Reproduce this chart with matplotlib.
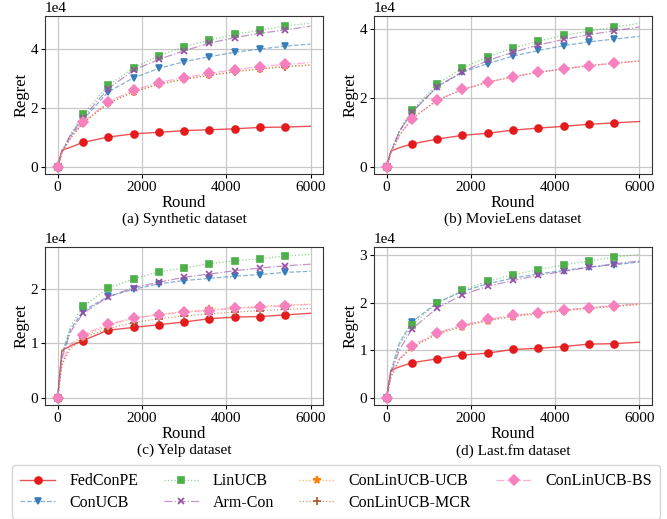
import numpy as np
import matplotlib
matplotlib.use('Agg')
import matplotlib.pyplot as plt
from matplotlib.colors import to_rgba

plt.rcParams['font.family'] = ['Liberation Serif', 'DejaVu Serif']
plt.rcParams['font.size'] = 11

# rounds at which values were read
rounds = [0, 100, 300, 600, 1200, 1800, 2400, 3000, 3600, 4200, 4800, 5400, 6000]

names = ['FedConPE', 'ConUCB', 'LinUCB', 'Arm-Con',
         'ConLinUCB-UCB', 'ConLinUCB-MCR', 'ConLinUCB-BS']

# regret values (x1e4)
synthetic = {
    'FedConPE':      [0, 0.56, 0.66, 0.83, 1.01, 1.12, 1.17, 1.23, 1.26, 1.29, 1.34, 1.35, 1.38],
    'ConUCB':        [0, 0.50, 1.03, 1.60, 2.55, 3.03, 3.35, 3.58, 3.75, 3.90, 4.01, 4.11, 4.18],
    'LinUCB':        [0, 0.50, 1.10, 1.78, 2.77, 3.37, 3.78, 4.09, 4.31, 4.51, 4.65, 4.80, 4.89],
    'Arm-Con':       [0, 0.50, 1.07, 1.67, 2.66, 3.29, 3.66, 3.95, 4.21, 4.40, 4.55, 4.66, 4.79],
    'ConLinUCB-UCB': [0, 0.48, 0.97, 1.49, 2.17, 2.56, 2.82, 2.99, 3.12, 3.25, 3.34, 3.42, 3.48],
    'ConLinUCB-MCR': [0, 0.48, 0.96, 1.48, 2.16, 2.55, 2.81, 2.98, 3.11, 3.23, 3.33, 3.41, 3.46],
    'ConLinUCB-BS':  [0, 0.49, 0.98, 1.52, 2.21, 2.61, 2.87, 3.04, 3.18, 3.31, 3.41, 3.49, 3.55],
}
movielens = {
    'FedConPE':      [0, 0.45, 0.55, 0.66, 0.80, 0.91, 0.97, 1.06, 1.12, 1.17, 1.23, 1.27, 1.31],
    'ConUCB':        [0, 0.42, 1.02, 1.58, 2.32, 2.74, 2.99, 3.21, 3.37, 3.51, 3.62, 3.70, 3.78],
    'LinUCB':        [0, 0.42, 1.05, 1.63, 2.40, 2.86, 3.19, 3.44, 3.64, 3.81, 3.93, 4.05, 4.16],
    'Arm-Con':       [0, 0.42, 1.02, 1.58, 2.32, 2.76, 3.08, 3.32, 3.53, 3.69, 3.83, 3.94, 4.05],
    'ConLinUCB-UCB': [0, 0.40, 0.90, 1.39, 1.93, 2.24, 2.45, 2.61, 2.74, 2.84, 2.93, 3.00, 3.07],
    'ConLinUCB-MCR': [0, 0.40, 0.90, 1.39, 1.93, 2.24, 2.45, 2.61, 2.74, 2.84, 2.93, 3.00, 3.06],
    'ConLinUCB-BS':  [0, 0.40, 0.90, 1.39, 1.93, 2.24, 2.45, 2.61, 2.74, 2.84, 2.93, 3.00, 3.07],
}
yelp = {
    'FedConPE':      [0, 0.87, 0.95, 1.05, 1.24, 1.29, 1.34, 1.39, 1.45, 1.48, 1.49, 1.52, 1.55],
    'ConUCB':        [0, 0.78, 1.25, 1.59, 1.86, 1.99, 2.09, 2.15, 2.19, 2.23, 2.26, 2.30, 2.32],
    'LinUCB':        [0, 0.80, 1.30, 1.68, 2.01, 2.18, 2.31, 2.38, 2.46, 2.51, 2.55, 2.60, 2.63],
    'Arm-Con':       [0, 0.72, 1.20, 1.55, 1.85, 2.02, 2.12, 2.21, 2.27, 2.33, 2.38, 2.42, 2.45],
    'ConLinUCB-UCB': [0, 0.62, 0.95, 1.12, 1.33, 1.46, 1.53, 1.58, 1.62, 1.65, 1.68, 1.70, 1.72],
    'ConLinUCB-MCR': [0, 0.60, 0.90, 1.10, 1.27, 1.38, 1.45, 1.50, 1.54, 1.57, 1.60, 1.62, 1.64],
    'ConLinUCB-BS':  [0, 0.65, 0.98, 1.16, 1.35, 1.46, 1.52, 1.57, 1.60, 1.64, 1.66, 1.69, 1.71],
}
lastfm = {
    'FedConPE':      [0, 0.58, 0.65, 0.74, 0.82, 0.90, 0.94, 1.02, 1.04, 1.08, 1.13, 1.14, 1.17],
    'ConUCB':        [0, 0.55, 1.15, 1.60, 2.00, 2.24, 2.40, 2.52, 2.61, 2.68, 2.75, 2.80, 2.86],
    'LinUCB':        [0, 0.53, 1.10, 1.53, 2.00, 2.27, 2.45, 2.59, 2.70, 2.80, 2.88, 2.96, 3.02],
    'Arm-Con':       [0, 0.50, 1.00, 1.45, 1.89, 2.17, 2.35, 2.47, 2.58, 2.66, 2.75, 2.82, 2.88],
    'ConLinUCB-UCB': [0, 0.43, 0.80, 1.06, 1.34, 1.50, 1.62, 1.71, 1.77, 1.83, 1.88, 1.92, 1.96],
    'ConLinUCB-MCR': [0, 0.43, 0.80, 1.07, 1.35, 1.51, 1.63, 1.72, 1.78, 1.84, 1.89, 1.93, 1.97],
    'ConLinUCB-BS':  [0, 0.45, 0.82, 1.10, 1.37, 1.53, 1.65, 1.74, 1.79, 1.85, 1.90, 1.94, 1.98],
}
captions = ['(a) Synthetic dataset', '(b) MovieLens dataset',
            '(c) Yelp dataset', '(d) Last.fm dataset']
yticks = [[0, 2, 4], [0, 2, 4], [0, 1, 2], [0, 1, 2, 3]]

styles = {
    'FedConPE':      ('#e41a1c', '-',  'o', 5),
    'ConUCB':        ('#377eb8', '--', 'v', 5),
    'LinUCB':        ('#4daf4a', ':',  's', 5),
    'Arm-Con':       ('#984ea3', '-.', 'x', 5),
    'ConLinUCB-UCB': ('#ff7f00', ':',  '*', 5.5),
    'ConLinUCB-MCR': ('#a65628', ':',  '+', 5.5),
    'ConLinUCB-BS':  ('#f781bf', '-.', 'D', 5),
}
marks = [0, 3, 4, 5, 6, 7, 8, 9, 10, 11]

fig = plt.figure(figsize=(6.67, 5.19), dpi=100)
w, h = 0.417, 0.304
pos = [(0.0675, 0.665), (0.5607, 0.665), (0.0675, 0.2197), (0.5607, 0.2197)]
datasets = [synthetic, movielens, yelp, lastfm]

for i, (data, cap) in enumerate(zip(datasets, captions)):
    ax = fig.add_axes([pos[i][0], pos[i][1], w, h])
    for n in names:
        c, ls, m, ms = styles[n]
        lw = 1.0 if n == 'FedConPE' else 0.9
        ax.plot(rounds, np.array(data[n]) * 1e4, color=to_rgba(c, 0.75 if n == 'FedConPE' else 0.6),
                ls=ls, lw=lw, marker=m, ms=ms, markevery=marks,
                mfc=c, mec=c, mew=1.2, label=n)
    ax.grid(True, color='#c8c8c8', lw=0.9)
    ax.set_axisbelow(True)
    ax.set_xlabel('Round', fontsize=12, labelpad=1)
    ax.set_ylabel('Regret', fontsize=12, labelpad=1)
    ax.set_xticks([0, 2000, 4000, 6000])
    ax.set_yticks(np.array(yticks[i]) * 1e4)
    ax.ticklabel_format(axis='y', style='sci', scilimits=(0, 0))
    ax.yaxis.get_offset_text().set_fontsize(11)
    ax.tick_params(labelsize=11, length=3, pad=2)
    for s in ax.spines.values():
        s.set_color('#333333')
    fig.text(pos[i][0] + w / 2, pos[i][1] - 0.075, cap, ha='center', va='top', fontsize=11)

handles, labels = ax.get_legend_handles_labels()
fig.legend(handles, labels, loc='center', bbox_to_anchor=(0.504, 0.052), ncol=4,
           fontsize=11.5, frameon=True, fancybox=True, edgecolor='#cccccc',
           handlelength=2.2, handletextpad=0.9, columnspacing=1.55,
           borderpad=0.5, labelspacing=0.35)

fig.savefig('out.png', dpi=100)
